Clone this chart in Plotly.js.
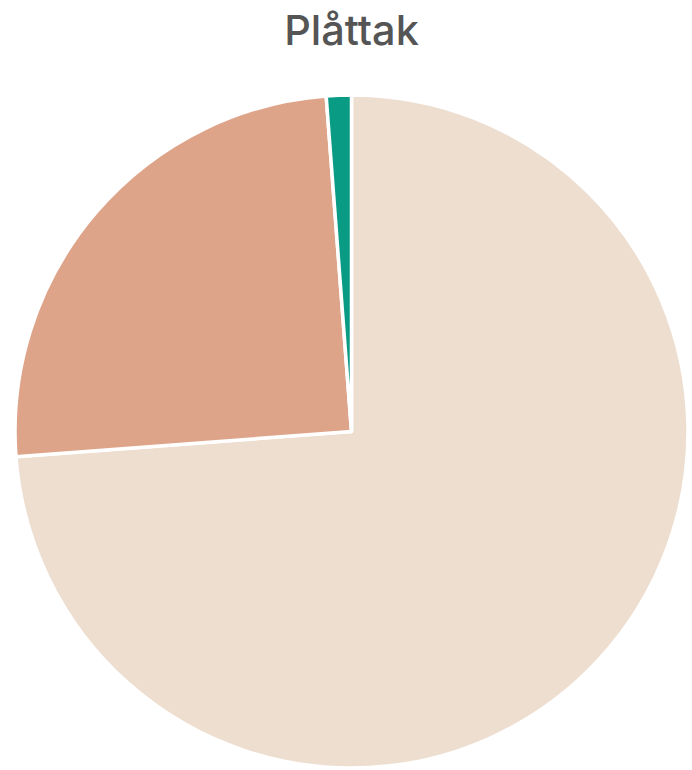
<!DOCTYPE html>
<html>
<head>
<meta charset="utf-8">
<script src="https://cdn.plot.ly/plotly-3.0.1.min.js"></script>
<style>html,body{margin:0;padding:0;background:#fff;}#chart{width:692px;height:770px;}</style>
</head>
<body>
<div id="chart"></div>
<script>
const labels = ["Kategori A", "Kategori B", "Kategori C"];
const values = [73.8, 25.0, 1.2];
const colors = ["#EEDED0", "#DEA48A", "#0A9B85"];
const chartTitle = "Plåttak";

Plotly.newPlot("chart", [{
  type: "pie",
  labels: labels,
  values: values,
  sort: false,
  direction: "clockwise",
  rotation: 0,
  textinfo: "none",
  hoverinfo: "label+percent",
  marker: {colors: colors, line: {color: "#ffffff", width: 3.5}}
}], {
  width: 692,
  height: 770,
  showlegend: false,
  margin: {l: 15, r: 4, t: 95, b: 2},
  paper_bgcolor: "#ffffff",
  title: {
    text: chartTitle,
    font: {family: "Inter, 'Noto Sans', sans-serif", size: 41.5, color: "#555555", weight: 500},
    xref: "paper", x: 0.5, xanchor: "center",
    yref: "container", y: 1 - 30/770, yanchor: "middle"
  }
}, {displayModeBar: false, staticPlot: false});
</script>
</body>
</html>
